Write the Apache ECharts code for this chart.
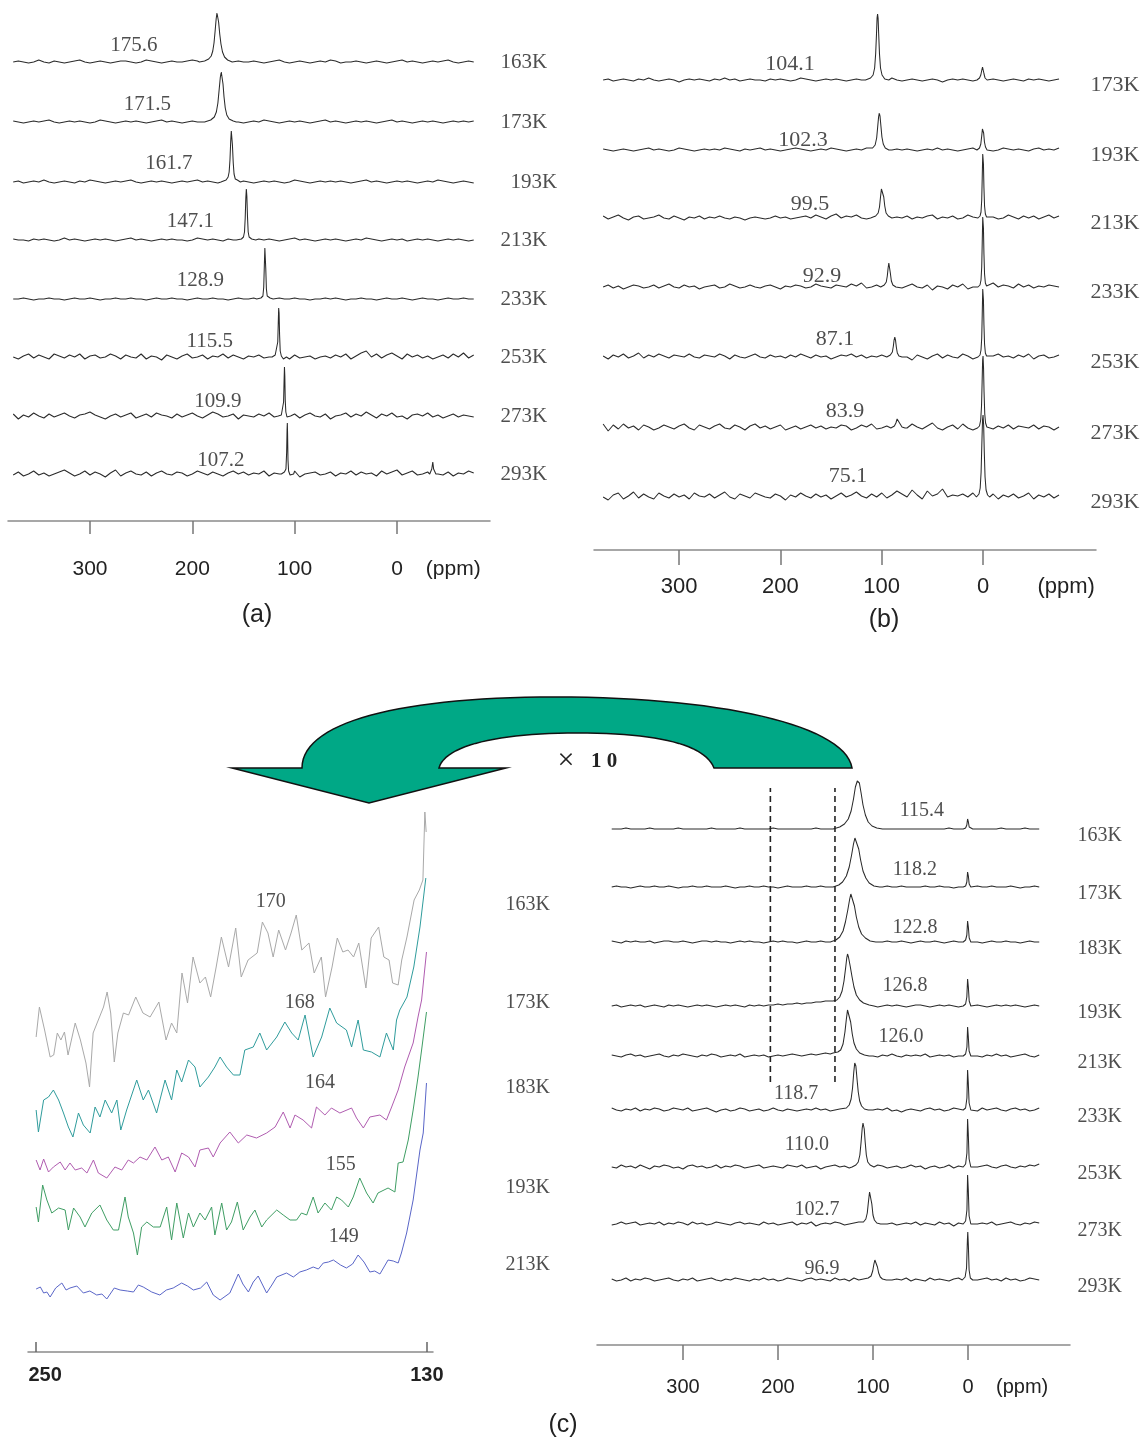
<!DOCTYPE html>
<html><head><meta charset="utf-8">
<script src="https://cdn.jsdelivr.net/npm/echarts@6/dist/echarts.min.js"></script>
<style>html,body{margin:0;padding:0;background:#fff}#c{width:1143px;height:1441px}</style>
</head><body><div id="c"></div>
<script>
// ================= DATA =================
// Panel (a)
const tempsA = ['163K','173K','193K','213K','233K','253K','273K','293K'];
const shiftsA = ['175.6','171.5','161.7','147.1','128.9','115.5','109.9','107.2'];
// baseline noise sampled every 5 ppm from 375 to -75 ppm (px units)
const noiseA163 = [0,1,0,-1,0,2,0,-1,1,0, -1,0,1,2,0,-1,0,1,0,-1, 0,1,1,0,-1,0,2,1,0,-1, 0,1,0,0,1,2,1,0,-1,0, 1,0,-1,0,1,0,0,1,0,-1, 0,1,2,0,-1,0,1,0,-1,0, 1,0,2,1,-1,0,0,1,0,-1, 0,1,0,-1,0,1,2,0,1,0, -1,0,1,0,1,2,0,-1,0,1, 0];
const noiseA173 = [1,0,-1,0,1,0,1,2,0,-1, 0,1,0,1,0,-1,0,2,1,0, -1,0,1,0,1,0,-1,0,1,2, 0,1,0,-1,0,1,0,0,1,0, -1,1,0,1,0,-1,0,1,0,2, 1,0,-1,0,1,0,1,0,-1,0, 1,2,0,1,0,-1,0,1,0,1, 0,-1,0,1,2,0,1,0,-1,0, 1,0,1,0,-1,0,1,0,1,0, 1];
const noiseA193 = [0,1,-1,0,1,0,2,0,-1,0, 1,0,-1,1,0,2,1,0,-1,0, 1,0,1,2,0,-1,0,1,0,1, 0,-1,0,1,0,1,2,0,1,0, -1,0,1,0,0,1,0,-1,0,1, 0,1,0,-1,0,2,1,0,-1,0, 1,0,1,0,1,0,-1,0,1,2, 0,1,0,-1,0,1,0,1,0,-1, 0,1,0,2,1,0,-1,0,1,0, -1];
const noiseA213 = [1,0,0,-1,1,0,1,0,-1,0, 2,0,1,0,-1,0,1,0,1,0, -1,0,1,2,0,1,0,-1,0,1, 0,1,0,0,-1,0,2,1,0,1, 0,-1,1,0,1,0,-1,0,1,0, 1,0,-1,0,1,2,0,1,0,-1, 0,1,0,1,0,-1,0,1,0,2, 1,0,-1,0,1,0,1,-1,0,1, 0,1,0,-1,0,1,0,1,0,-1, 0];
const noiseA233 = [0,0,1,0,-1,0,0,1,0,0, -1,0,1,0,0,1,0,-1,0,0, 1,0,0,1,0,0,-1,0,1,0, 0,1,0,0,-1,0,1,0,0,1, 0,0,-1,0,1,0,0,1,0,0, -1,0,1,0,0,1,0,0,-1,0, 0,1,0,1,0,-1,0,0,1,0, 0,-1,0,1,0,0,1,0,-1,0, 1,0,0,-1,0,1,0,0,1,0, 0];
const noiseA253 = [0,-2,1,3,-1,2,0,-2,3,1, -1,2,0,3,-2,1,2,-1,0,3, 1,-2,2,0,-1,3,-2,1,0,-3, 2,0,-2,1,3,-1,0,2,-2,1, 0,3,-1,2,0,-2,1,0,2,-1, 0,-2,1,0,-2,2,-1,0,1,-2, 0,1,-1,2,0,3,-2,1,4,6, 0,3,-1,2,4,1,-2,3,0,2, -1,1,-2,0,2,-1,3,0,4,-1, 2];
const noiseA273 = [2,-3,1,-1,3,0,-2,2,-1,1, 3,0,-2,1,2,4,1,-1,-3,0, 2,-1,1,3,-2,0,2,-1,3,1, 0,-2,2,-1,1,3,0,-2,1,4, 2,-1,0,2,-3,1,0,-1,2,0, 3,-1,1,-2,0,2,-2,1,3,0, -1,2,-3,0,1,3,-1,2,0,4, 1,-2,2,0,3,-1,0,-3,1,2, 0,3,-1,1,-2,0,2,-1,1,0, -1];
const noiseA293 = [-1,2,-2,0,3,-1,1,-2,0,2, 4,1,-2,0,3,-1,2,0,-3,1, 4,-2,1,3,0,-1,2,-2,1,3, 0,-1,2,1,-2,0,3,1,-1,2, 0,-2,1,3,0,2,-1,1,0,3, -2,1,0,2,-1,3,-3,0,1,2, -1,0,2,-2,1,0,3,-1,2,0, 1,-2,3,0,2,4,-1,1,3,-1, 0,2,0,0,-1,2,-2,1,0,3, 1];
// peaks [ppm, height]
const peaksA163 = [[[193,0],[188,1],[184,3],[181.5,6],[180,11],[178.8,19],[177.7,31],[176.7,43],[175.9,49],[175.2,48],[174.3,40],[173.2,28],[172,18],[170.5,10],[168.5,5],[165.5,2],[161,0]]];
const peaksA173 = [[[188,0],[182,2],[178.5,5],[176.5,10],[175,19],[173.8,32],[172.6,45],[171.7,50],[171,48],[170,38],[169,25],[167.8,14],[166.3,7],[164,3],[160,1],[157,0]]];
const peaksA193 = [[[172,0],[167,2],[165,5],[164,10],[163.2,22],[162.5,40],[161.9,51],[161.4,50],[160.8,37],[160,19],[159.2,8],[158,3],[156,2],[154.5,3],[153,0]]];
const peaksA213 = [[[157,0],[152,1],[150,3],[149,8],[148.3,22],[147.7,42],[147.2,51],[146.7,44],[146.1,24],[145.4,8],[144.5,3],[142,1],[138,0]]];
const peaksA233 = [[[137,0],[133,1],[131,3],[130.2,12],[129.6,34],[129.1,51],[128.7,49],[128.2,30],[127.6,10],[126.8,3],[124,1],[121,0]]];
const peaksA253 = [[[122,0],[119,2],[117.5,4],[116.5,15],[116,34],[115.6,49],[115.2,44],[114.7,22],[114.1,6],[113,1],[111,-2],[108,0]]];
const peaksA273 = [[[116,0],[113,1],[111.5,3],[110.8,14],[110.3,36],[109.95,49],[109.6,40],[109.2,16],[108.6,4],[107.5,-1],[104,0]]];
const peaksA293 = [[[113,0],[110,2],[108.5,5],[107.8,22],[107.4,44],[107.15,51],[106.9,40],[106.5,14],[105.9,3],[104.5,-1],[101,0]], [[-32,0],[-34,5],[-35,12],[-35.8,5],[-38,0]]];

// Panel (b)
const tempsB = ['173K','193K','213K','233K','253K','273K','293K'];
const shiftsB = ['104.1','102.3','99.5','92.9','87.1','83.9','75.1'];
const noiseB173 = [0,1,-1,0,1,0,-1,1,0,2, 0,-1,0,1,0,-2,0,1,0,1, 0,-1,1,0,2,0,1,-1,0,1, 0,0,-1,1,0,1,0,-1,0,2, 1,0,-1,0,1,0,1,0,-1,0, 1,0,1,-1,0,0,1,2,0,-1, 0,1,0,-1,0,1,0,-2,0,1, 0,1,0,-1,0,1,0,1,0,-1, 0,1,0,-1,1,0,1,0,-1,0, 1];
const noiseB193 = [1,0,-1,0,1,0,-1,0,1,2, 0,1,0,-1,0,2,1,0,-1,0, 1,0,1,0,2,1,0,-1,1,0, 1,2,0,1,0,-1,0,1,2,1, 0,-1,0,1,0,2,1,0,-1,0, 1,0,2,0,1,0,-1,0,1,0, 1,0,-1,0,1,0,2,0,1,0, -1,0,1,2,0,1,0,-1,0,2, 1,0,1,0,-1,1,2,0,1,0, 2];
const noiseB213 = [2,-1,1,3,0,-2,1,2,-1,0, 1,3,0,-1,2,0,-2,1,0,2, -1,1,0,2,0,-1,1,0,-2,0, 1,0,-1,0,2,0,1,-1,0,1, 2,0,3,1,-1,2,4,0,2,1, 3,0,-1,2,0,1,-2,0,1,0, 2,-1,1,0,2,3,-1,1,0,2, -1,0,3,1,-2,2,0,1,-1,0, 3,1,-1,2,0,2,-1,1,3,0, 2];
const noiseB233 = [0,2,-1,1,-2,0,2,1,-1,0, 2,-1,1,3,0,-1,2,0,1,-2, 0,1,2,-1,0,3,1,-1,0,2, 0,-1,1,2,0,-2,1,0,2,1, -1,0,3,1,0,-1,2,1,0,3, 1,4,-1,0,2,1,3,0,2,-1, 1,3,0,-1,2,-3,1,0,-2,2, 0,3,-2,0,1,-1,2,4,0,2, 1,-1,3,0,2,-1,1,0,2,1, 0];
const noiseB253 = [1,-2,2,0,3,-1,1,4,-1,2, 0,3,1,-1,2,1,0,3,0,-1, 2,1,0,3,1,-2,2,0,-1,1, 3,0,-1,2,0,1,-1,2,0,3, 1,-1,2,0,1,-2,0,2,1,3, 0,2,-1,1,0,2,-1,3,1,4, 0,-3,2,0,-2,1,3,-1,2,0, -1,3,1,-2,2,4,-1,1,3,0, 1,-1,2,0,3,-2,1,2,-1,0, 2];
const noiseB273 = [4,-3,3,-1,4,0,2,-2,3,1, -2,0,3,1,-1,2,4,0,-2,3, 1,-1,2,4,0,-1,3,1,-2,2, 4,0,2,-1,1,3,-2,0,2,-1, 1,3,0,2,-1,1,0,3,2,-2, 0,3,1,4,-1,0,2,1,-2,3, 0,4,1,-1,2,5,0,-2,1,3, -1,4,0,-2,3,1,4,-1,2,0, 3,-1,2,1,0,3,-1,2,1,-2, 1];
const noiseB293 = [0,-3,2,4,-2,1,5,-1,3,0, -2,4,1,-1,3,0,2,-2,4,1, 0,3,-1,2,5,0,-2,3,1,-1, 4,2,0,-1,3,1,-3,2,0,4, 1,-1,3,0,2,-2,1,4,0,2, 5,1,-1,3,0,4,-1,2,6,3, 0,7,2,-2,6,1,3,8,0,2, 1,3,0,4,2,-1,1,3,-2,2, 0,3,-1,1,4,-2,2,0,3,-1, 2];
const peaksB173 = [[[116,0],[111,2],[108.5,5],[107,12],[106,26],[105.2,45],[104.6,62],[104.1,66],[103.6,62],[103,46],[102.2,26],[101.2,12],[99.7,5],[97,1],[93,0]], [[6,0],[3.5,2],[2.2,5],[1.2,10],[0.5,13],[-0.2,11],[-1,6],[-2,2],[-4,0]]];
const peaksB193 = [[[114,0],[109,2],[106.5,5],[105,12],[104,23],[103.1,33],[102.4,37],[101.7,34],[100.8,24],[99.8,13],[98.5,6],[96.5,2],[93,0]], [[6,0],[3.5,2],[2.2,6],[1.3,14],[0.6,21],[0,22],[-0.6,17],[-1.4,8],[-2.4,3],[-4,0]]];
const peaksB213 = [[[111,0],[106,2],[103.5,5],[102.2,11],[101.2,21],[100.3,29],[99.6,31],[98.9,29],[98,21],[97,12],[95.7,5],[93.5,2],[90,0]], [[5,0],[3,2],[2,6],[1.3,18],[0.8,40],[0.3,64],[0,66],[-0.4,54],[-0.9,30],[-1.5,12],[-2.3,4],[-3.5,1],[-5,0]]];
const peaksB233 = [[[101,0],[97.5,2],[95.5,5],[94.5,11],[93.7,19],[93,24],[92.3,22],[91.5,14],[90.5,6],[89,2],[86,0]], [[5,0],[3,2],[2,7],[1.3,20],[0.8,44],[0.3,70],[0,72],[-0.4,59],[-0.9,33],[-1.5,13],[-2.3,4],[-3.5,1],[-5,0]]];
const peaksB253 = [[[95,0],[91.5,2],[89.5,5],[88.5,11],[87.8,17],[87.1,20],[86.4,17],[85.6,10],[84.6,4],[83,1],[80,0]], [[5,0],[3,2],[2,7],[1.3,19],[0.8,42],[0.3,68],[0,70],[-0.4,57],[-0.9,32],[-1.5,13],[-2.3,4],[-3.5,1],[-5,0]]];
const peaksB273 = [[[91,0],[87.5,2],[86,5],[84.8,9],[83.9,10],[83,8],[81.8,4],[80,1],[77,0]], [[5.5,0],[3.5,2],[2.3,8],[1.5,22],[0.9,46],[0.4,68],[0,72],[-0.5,60],[-1,36],[-1.7,14],[-2.5,5],[-3.8,1],[-5.5,0]]];
const peaksB293 = [[[6.5,0],[4,3],[2.8,9],[1.9,25],[1.2,52],[0.5,77],[0,82],[-0.6,72],[-1.2,46],[-2,20],[-3,7],[-4.5,2],[-6.5,0]]];

// Panel (c), right
const tempsC = ['163K','173K','183K','193K','213K','233K','253K','273K','293K'];
const shiftsC = ['115.4','118.2','122.8','126.8','126.0','118.7','110.0','102.7','96.9'];
const noiseC163 = [0,0,0,1,0,0,0,0,1,0, 0,0,0,0,1,0,0,0,0,0, 0,1,0,0,0,0,0,1,0,0, 0,0,0,0,1,0,0,0,0,0, 0,0,0,1,0,0,0,0,0,0, 0,0,1,0,0,0,0,0,0,0, 0,0,0,0,0,0,0,0,0,0, 0,1,0,0,0,0,0,0,0,0, 0,0,1,0,0,0,0,1,0,0, 0];
const noiseC173 = [0,1,0,0,-1,0,1,0,0,1, 0,0,1,0,-1,0,0,1,0,0, 1,0,0,0,1,0,-1,0,0,1, 0,0,1,0,0,-1,0,1,0,0, 0,1,0,0,1,0,0,0,1,0, 0,0,1,0,0,-1,0,0,1,0, 0,1,0,0,0,0,1,0,0,1, 0,0,-1,0,1,0,0,1,0,0, 1,0,0,0,1,0,-1,0,0,1, 0];
const noiseC183 = [1,0,-1,1,0,1,0,0,1,-1, 0,1,1,0,0,1,0,-1,0,1, 1,0,1,0,0,-1,0,1,0,1, 0,0,-1,0,1,0,1,0,0,-1, 0,1,0,0,1,0,-1,0,0,1, 0,1,0,0,1,0,-1,0,1,0, 0,1,0,-1,0,1,0,0,1,0, -1,0,1,0,0,1,0,0,-1,0, 1,0,0,1,0,0,-1,0,1,0, 0];
const noiseC193 = [0,1,-1,0,1,0,1,-1,0,1, 0,-1,1,0,1,0,-1,0,1,0, 1,0,-1,0,1,0,1,0,-1,1, 0,1,0, 1,1,2,1,2,2,3,2,3,3,4,4,5,5, 0,0,0,0,0,0,0,0, 0,-1,0,1,0,1,0,-1,0,1, 1,0,-1,0,1,0,1,0,-1,0, 1,0,1,0,-1,0,1,0,1,0, 1,0,-1,0,1,0,1,0];
const noiseC213 = [1,0,-1,1,2,0,1,-1,0,1, 2,0,-1,1,0,2,1,0,-1,1, 0,2,1,-1,0,1,0,2,-1,0, 1,0,1,-1,0,1,0,1,2,1, 0,1,2,1,2,3,2,3,0,1, 0,-1,1,0,1,0,-1,1,0,2, 0,-1,1,0,1,0,2,-1,0,1, 0,1,-1,0,2,0,1,0,-1,1, 0,2,0,1,-1,0,1,2,0,-1, 1];
const noiseC233 = [2,0,-1,1,0,2,-1,1,0,2, 1,-1,0,2,1,0,2,-1,0,1, 2,0,-2,0,1,-1,0,2,1,-1, 0,1,-1,0,2,0,-1,1,0,-1, 0,1,0,2,0,1,-1,0,1,2, 0,-1,0,1,-1,0,1,0,2,-1, 0,-2,0,1,0,-1,1,2,0,1, -1,0,2,1,-1,0,1,-1,2,0, 1,2,0,-1,1,2,0,1,-1,0, 2];
const noiseC253 = [0,-1,2,0,1,-1,2,0,-2,1, 0,2,1,-1,0,-2,1,2,0,1, -1,0,2,-1,1,0,2,1,-1,0, 1,2,-1,0,1,0,-1,2,1,0, 2,-1,0,1,-2,0,1,2,0,1, -1,2,0,1,-1,0,2,1,-1,0, 1,-1,0,2,0,1,-2,0,1,-1, 0,2,-1,1,0,-1,2,0,1,2, 0,-1,1,2,0,-1,1,0,2,1, 3];
const noiseC273 = [-1,0,2,0,1,2,-1,0,1,0, 2,-1,1,0,2,1,-1,2,0,1, -1,0,2,1,0,-1,1,2,0,1, 0,-1,2,0,1,-1,0,1,2,-1, 1,0,2,-2,0,1,0,2,1,-1, 0,1,2,-1,1,0,-1,2,0,1, -1,0,1,0,2,-1,1,0,-1,2, 0,1,-2,1,0,2,-1,0,1,0, 2,-1,0,1,2,0,-1,1,0,2, 1];
const noiseC293 = [1,-1,0,2,-1,1,0,2,1,-1, 0,1,2,0,-1,1,0,2,-1,0, 1,2,0,-1,1,0,2,1,0,-1, 1,0,2,0,1,-1,0,2,1,0, -1,1,2,0,1,0,-1,2,0,1, -1,2,0,1,-2,1,0,2,-1,0, 1,0,2,-1,1,0,-1,2,0,1, 0,-1,1,2,0,1,-2,0,1,2, 0,1,-1,2,0,1,-1,0,2,1, 0];
const peaksC163 = [[[142,0],[135,2],[130,5],[126,10],[123,18],[120.5,30],[118.5,42],[116.5,48],[115.4,49],[114.3,46],[112.5,36],[110.5,24],[108,14],[105,7],[101,3],[96,1],[90,0]], [[5,0],[2.5,1],[1.2,4],[0.4,10],[-0.4,7],[-1.3,2],[-3,0]]];
const peaksC173 = [[[142,0],[136,2],[132,5],[128,11],[125,20],[122.5,32],[120.5,43],[119,49],[118.2,50],[117,47],[115,38],[113,27],[110.5,16],[107.5,9],[104,4],[99,1],[93,0]], [[5,0],[2.5,1],[1.2,5],[0.4,15],[-0.4,11],[-1.3,3],[-3,0]]];
const peaksC183 = [[[145,0],[139,2],[135,5],[131.5,11],[129,20],[126.5,32],[124.5,43],[123.3,48],[122.8,49],[121.5,46],[119.5,36],[117.5,25],[115,15],[112,8],[108,4],[103,1],[97,0]], [[5,0],[2.5,2],[1.2,7],[0.4,21],[-0.4,15],[-1.3,4],[-3,0]]];
const peaksC193 = [[[142,5],[138,6],[135,9],[132.5,15],[130.5,25],[128.8,38],[127.6,48],[126.8,52],[125.8,49],[124,40],[122,29],[120,19],[117.5,11],[114,6],[110,3],[104,1],[99,0]], [[5,0],[2.5,2],[1.2,9],[0.4,27],[-0.4,19],[-1.3,5],[-3,0]]];
const peaksC213 = [[[142,3],[137,4],[134,6],[131.5,12],[129.5,24],[128,37],[126.8,46],[126,48],[125,44],[123.5,34],[121.8,22],[120,13],[117.5,7],[114,3],[109,1],[104,0]], [[5,0],[2.5,2],[1.1,9],[0.4,29],[-0.3,20],[-1.2,5],[-3,0]]];
const peaksC233 = [[[134,0],[128,2],[125,5],[123,11],[121.5,22],[120.2,38],[119.2,47],[118.7,48],[118,44],[116.8,31],[115.5,18],[114,9],[112,4],[109,1],[105,0]], [[5,0],[2.5,2],[1.1,12],[0.4,40],[-0.3,28],[-1.2,7],[-3,0]]];
const peaksC253 = [[[122,0],[118,2],[115.5,5],[113.8,12],[112.5,25],[111.3,39],[110.5,44],[110,44],[109.2,38],[108.2,25],[107,12],[105.5,5],[103,2],[99,0]], [[5,0],[2.5,3],[1.1,14],[0.4,48],[-0.3,34],[-1.2,8],[-3,0]]];
const peaksC273 = [[[114,0],[110,2],[107.5,5],[106,11],[104.8,22],[103.6,32],[102.9,34],[102.2,31],[101.2,20],[100,9],[98.5,4],[96,1],[92,0]], [[5,0],[2.5,3],[1.1,14],[0.4,49],[-0.3,35],[-1.2,8],[-3,0]]];
const peaksC293 = [[[109,0],[105,2],[102,4],[100.3,9],[99,16],[98,20],[97.3,21],[96.5,19],[95.3,13],[94,7],[92.3,3],[90,1],[86,0]], [[6,0],[3,3],[1.5,12],[0.6,40],[0.2,48],[-0.4,35],[-1.2,10],[-2.5,2],[-5,0]]];
const dashedLinePpm = [208, 140];
const dashedLineRange = [263, 557];

// Panel (c), left (x10 expansion, 250-130 ppm); heights above the axis
const tempsL = ['163K','173K','183K','193K','213K'];
const shiftsL = ['170','168','164','155','149'];
const colorsL = ['#a9a9a9','#2f9c9c','#b05cb0','#3f9e64','#5a66c8'];
const gray163 = [[250,315],[249,345],[247.4,322],[245.7,295],[244.6,297],[243.5,319],[242.4,312],[241.3,320],[240.2,297],[238,329],[236.4,312],[234.7,289],[233.6,265],[232.5,319],[230.9,332],[229.3,345],[228.2,360],[227.1,339],[226,290],[224.9,319],[223.2,339],[221.6,337],[219.4,355],[217.2,339],[215,335],[212.3,350],[210.1,312],[208.4,329],[206.8,319],[205.2,379],[203.5,349],[201.8,395],[199.7,369],[198,375],[196.4,355],[194.7,385],[193.1,415],[190.9,385],[188.7,424],[187,375],[184.9,392],[182.1,399],[180.5,430],[178.8,419],[177.2,395],[175.5,422],[173.4,402],[171.7,419],[170.1,437],[168.4,402],[166.2,409],[164.6,379],[162.4,395],[161.1,355],[159.1,385],[157.5,414],[155.8,400],[154.2,402],[152.5,395],[150.9,409],[148.7,364],[147.1,414],[144.8,425],[143.2,395],[141.6,392],[140.5,369],[138.8,367],[137.7,392],[136.1,415],[133.9,452],[132.3,462],[131.2,472],[130.6,540],[130.2,520]];
const teal173 = [[250,242],[249.3,220],[247.7,252],[246.2,255],[244.7,262],[243.1,252],[241.6,239],[240.1,225],[238.7,215],[237,239],[235.5,227],[233.4,219],[231.9,245],[230.4,235],[228.8,252],[226.8,239],[225.2,252],[224,222],[222.2,242],[219.1,272],[217.1,252],[215.5,262],[213,239],[210.4,272],[208.4,252],[206.8,282],[205.3,270],[203.2,292],[201.2,285],[199.7,265],[197.1,275],[195.1,285],[193.5,295],[191.5,285],[189.4,277],[187.4,277],[185.9,302],[183.3,305],[181.3,319],[179.2,302],[176.1,315],[173.6,330],[171.5,319],[169.5,312],[167.4,337],[164.9,295],[162.3,315],[159.8,344],[157.7,329],[154.7,322],[153.1,305],[151.1,332],[149.5,302],[147,300],[144.4,295],[142.4,319],[140.3,302],[139.3,332],[138.3,342],[136.1,355],[134,385],[132.1,425],[130.3,474]];
const magenta183 = [[250,192],[248.8,182],[247.7,193],[246.2,180],[244.7,185],[242.6,190],[241.1,182],[239.6,189],[238,182],[236,184],[234.4,179],[232.4,192],[230.9,179],[228.3,174],[225.8,185],[223.7,182],[221.7,192],[220.1,189],[218.1,195],[216,192],[213.5,205],[211.4,192],[209.4,195],[207.3,180],[205.3,199],[203.2,195],[201.2,185],[199.7,202],[197.1,204],[195.6,195],[193.5,209],[190.5,220],[187.9,209],[185.3,217],[182.3,214],[179.2,219],[176.6,225],[174.1,240],[172,224],[170.5,237],[168,232],[165.4,224],[163.9,245],[161.3,237],[159.3,244],[156.7,239],[153.1,244],[151.6,234],[149.5,224],[147.5,235],[144.4,237],[142.4,232],[140.8,245],[138.8,262],[136.8,285],[134.2,309],[132.7,335],[131.6,352],[130.1,400]];
const green193 = [[250,145],[249.3,130],[248,167],[246.7,152],[245.2,139],[243.1,144],[241.1,142],[240.1,122],[238.5,144],[236.5,135],[235,125],[232.9,139],[230.4,147],[228.3,132],[226.3,122],[224.7,122],[222.7,155],[221.7,135],[220.1,119],[218.9,97],[217.6,125],[216,130],[214,125],[211.9,125],[209.9,145],[208.4,112],[206.8,149],[204.8,114],[203.2,139],[201.7,125],[199.7,139],[198.1,132],[196.1,145],[195.1,117],[193,149],[191.5,122],[190,130],[188.2,150],[186.4,122],[184.3,135],[182.8,142],[180.7,125],[179.2,132],[176.1,142],[174.1,137],[172,132],[170,132],[168.5,139],[166.9,137],[164.9,155],[163.4,139],[161.3,149],[159.3,142],[157.7,155],[156.2,152],[154.1,145],[152.6,155],[150.6,174],[148.5,159],[146.5,149],[145,159],[141.9,164],[139.8,160],[138.8,189],[137.3,190],[135.7,212],[134.2,242],[132.7,275],[131.6,302],[130.1,340]];
const blue213 = [[250,63],[248.7,65],[247.7,59],[246.7,60],[245.7,55],[244,64],[242.1,69],[240.8,62],[239.6,64],[237.5,66],[235.5,59],[233.5,61],[231.4,57],[229.8,58],[228.3,53],[226,64],[224.2,62],[222,61],[220.1,60],[218.6,67],[217.1,65],[214.5,60],[212,57],[210,62],[207.9,64],[205.3,69],[203.5,66],[201.7,62],[199.5,64],[197.6,70],[195.6,57],[193.5,52],[190.5,59],[187.9,78],[186.5,68],[184.8,60],[183.3,70],[181.8,76],[179.2,59],[177.6,67],[176.1,75],[173.1,79],[171,75],[169,80],[167,82],[164.9,85],[163.3,83],[161.8,89],[160.2,90],[158.7,92],[156.5,87],[154.7,84],[152.8,88],[151.1,97],[149.3,90],[147.5,80],[146,81],[144.4,78],[141.9,92],[140.3,91],[138.8,89],[137.8,99],[136.2,119],[134.2,152],[132.1,202],[131.1,219],[130.1,269]];

// Axis tick values
const ticksMain = [300, 200, 100, 0];
const ticksLeft = [250, 130];

// ================= LAYOUT =================
const SERIF = "'Liberation Serif','DejaVu Serif',serif";
const SANS = "'Liberation Sans','DejaVu Sans',Arial,sans-serif";
const LA = {grid:{left:8, top:0, width:482, height:521}, ppmMin:-90.9, ppmMax:380.1, axisY:521,
  baselines:[62,122,182,240,299,357,416,474], tempPpm:[-100.6,-100.6,-110.4,-100.6,-100.6,-100.6,-100.6,-100.6], tempDy:0,
  valuePos:[[257,17],[244,18],[223,19],[202,19],[192,19],[183,16],[175,15],[172,14]], tempFont:21, valFont:21,
  tickLen:13, labelMargin:38, labelFont:21, ppmPos:-55};
const LB = {grid:{left:594, top:0, width:502, height:550}, ppmMin:-111.5, ppmMax:384.0, axisY:550,
  baselines:[80,150,218,287,357,428,497], tempPpm:[-105.6,-105.6,-105.6,-105.6,-105.6,-105.6,-105.6], tempDy:5,
  valuePos:[[190.5,16],[177.7,10],[170.8,14],[158.9,11],[146.1,18],[136.2,17],[133.3,21]], tempFont:22, valFont:22,
  tickLen:15, labelMargin:26, labelFont:22, ppmPos:-82};
const LC = {grid:{left:597, top:770, width:473, height:575}, ppmMin:-107.4, ppmMax:390.5, axisY:1345,
  baselines:[829,887,942,1006,1056,1110,1167,1224,1280], tempPpm:[-114.7,-114.7,-114.7,-114.7,-114.7,-114.7,-114.7,-114.7,-114.7], tempDy:7,
  valuePos:[[48.4,18],[55.8,17],[55.8,14],[66.3,20],[70.5,19],[181,16],[169.5,22],[159,14],[153.7,11]], tempFont:20, valFont:20,
  tickLen:15, labelMargin:32, labelFont:20, ppmPos:-57};
const LL = {grid:{left:28, top:800, width:405, height:552}, ppmMin:128.1, ppmMax:252.5,
  tempPos:[[106,447],[106,349],[106,264],[106,164],[106,87]],
  valuePos:[[177.9,450],[169,349],[162.8,269],[156.4,187],[155.5,115]]};

// ================= BUILD =================
const ppmGrid = [];
for (let p = 375; p >= -75; p -= 5) ppmGrid.push(p);

function buildTrace(noise, peakList, offset) {
  const spans = peakList.map(pk => {
    const xs = pk.map(q => q[0]);
    return [Math.min.apply(null, xs), Math.max.apply(null, xs)];
  });
  const pts = [];
  ppmGrid.forEach((p, i) => {
    if (noise[i] === undefined) return;
    if (spans.some(s => p >= s[0] && p <= s[1])) return;
    pts.push([p, noise[i]]);
  });
  peakList.forEach(pk => pk.forEach(q => pts.push([q[0], q[1]])));
  pts.sort((a, b) => b[0] - a[0]);
  return pts.map(q => [q[0], q[1] + offset]);
}

const lineCommon = {type:'line', symbol:'none', showSymbol:false, clip:false, silent:true, animation:false,
  lineStyle:{width:1.05, color:'#2a2a2a'}};
const labelSeriesCommon = {type:'scatter', symbol:'circle', symbolSize:1, clip:false, silent:true, animation:false,
  itemStyle:{color:'rgba(0,0,0,0)'}};

const series = [];
function addPanel(gi, L, noises, peaks, temps, values) {
  const offs = L.baselines.map(b => L.axisY - b);
  noises.forEach((nz, i) => {
    series.push(Object.assign({}, lineCommon, {xAxisIndex:gi, yAxisIndex:gi, data: buildTrace(nz, peaks[i], offs[i])}));
  });
  series.push(Object.assign({}, labelSeriesCommon, {xAxisIndex:gi, yAxisIndex:gi,
    data: temps.map((t, i) => ({name:t, value:[L.tempPpm[i], offs[i] - L.tempDy]})),
    label:{show:true, position:'right', distance:0, formatter:'{b}', fontFamily:SERIF, fontSize:L.tempFont, color:'#222'}}));
  series.push(Object.assign({}, labelSeriesCommon, {xAxisIndex:gi, yAxisIndex:gi,
    data: values.map((v, i) => ({name:v, value:[L.valuePos[i][0], offs[i] + L.valuePos[i][1]]})),
    label:{show:true, position:'inside', formatter:'{b}', fontFamily:SERIF, fontSize:L.valFont, color:'#222'}}));
}

addPanel(0, LA, [noiseA163,noiseA173,noiseA193,noiseA213,noiseA233,noiseA253,noiseA273,noiseA293],
  [peaksA163,peaksA173,peaksA193,peaksA213,peaksA233,peaksA253,peaksA273,peaksA293], tempsA, shiftsA);
addPanel(1, LB, [noiseB173,noiseB193,noiseB213,noiseB233,noiseB253,noiseB273,noiseB293],
  [peaksB173,peaksB193,peaksB213,peaksB233,peaksB253,peaksB273,peaksB293], tempsB, shiftsB);
addPanel(2, LC, [noiseC163,noiseC173,noiseC183,noiseC193,noiseC213,noiseC233,noiseC253,noiseC273,noiseC293],
  [peaksC163,peaksC173,peaksC183,peaksC193,peaksC213,peaksC233,peaksC253,peaksC273,peaksC293], tempsC, shiftsC);

dashedLinePpm.forEach(p => {
  series.push(Object.assign({}, lineCommon, {xAxisIndex:2, yAxisIndex:2,
    data:[[p, dashedLineRange[0]], [p, dashedLineRange[1]]],
    lineStyle:{width:1.6, color:'#222', type:[6,4]}}));
});

[gray163, teal173, magenta183, green193, blue213].forEach((d, i) => {
  series.push(Object.assign({}, lineCommon, {xAxisIndex:3, yAxisIndex:3, data:d,
    lineStyle:{width:1, color:colorsL[i]}}));
});
series.push(Object.assign({}, labelSeriesCommon, {xAxisIndex:3, yAxisIndex:3,
  data: tempsL.map((t, i) => ({name:t, value:LL.tempPos[i]})),
  label:{show:true, position:'right', distance:0, formatter:'{b}', fontFamily:SERIF, fontSize:20, color:'#222'}}));
series.push(Object.assign({}, labelSeriesCommon, {xAxisIndex:3, yAxisIndex:3,
  data: shiftsL.map((v, i) => ({name:v, value:LL.valuePos[i]})),
  label:{show:true, position:'inside', formatter:'{b}', fontFamily:SERIF, fontSize:20, color:'#222'}}));

function mainXAxis(gi, L) {
  return {gridIndex:gi, type:'value', min:L.ppmMin, max:L.ppmMax, inverse:true, position:'bottom',
    axisLine:{show:true, onZero:false, lineStyle:{color:'#8a8a8a', width:1.5}},
    axisTick:{show:true, inside:false, length:L.tickLen, customValues:ticksMain, lineStyle:{color:'#777', width:1.5}},
    axisLabel:{show:true, customValues:ticksMain.concat([L.ppmPos]), margin:L.labelMargin,
      formatter: v => (v === L.ppmPos ? '(ppm)' : String(v)), fontFamily:SANS, fontSize:L.labelFont, color:'#222'},
    splitLine:{show:false}};
}
const xAxes = [mainXAxis(0, LA), mainXAxis(1, LB), mainXAxis(2, LC),
  {gridIndex:3, type:'value', min:LL.ppmMin, max:LL.ppmMax, inverse:true, position:'bottom',
    axisLine:{show:true, onZero:false, lineStyle:{color:'#8a8a8a', width:1.5}},
    axisTick:{show:true, inside:true, length:10, customValues:ticksLeft, lineStyle:{color:'#666', width:1.5}},
    axisLabel:{show:true, customValues:ticksLeft, margin:13,
      formatter: v => (v === 250 ? '{s|250}' : String(v)),
      rich:{s:{padding:[0,0,0,18], fontFamily:SANS, fontSize:20, fontWeight:'bold', color:'#222'}},
      fontFamily:SANS, fontSize:20, fontWeight:'bold', color:'#222'},
    splitLine:{show:false}}];
const grids = [LA, LB, LC, LL].map(L => Object.assign({containLabel:false}, L.grid));
const yAxes = grids.map((g, i) => ({gridIndex:i, type:'value', min:0, max:g.height, show:false}));

function txt(x, y, text, font) {
  return {type:'text', x:x, y:y, silent:true,
    style:{text:text, font:font, fill:'#222', textAlign:'center', textVerticalAlign:'middle'}};
}

// green curved arrow (decoration): cubic Bézier outline sampled into a polygon
function cubic(p0, p1, p2, p3, n) {
  const out = [];
  for (let i = 1; i <= n; i++) {
    const t = i / n, u = 1 - t;
    out.push([u*u*u*p0[0] + 3*u*u*t*p1[0] + 3*u*t*t*p2[0] + t*t*t*p3[0],
              u*u*u*p0[1] + 3*u*u*t*p1[1] + 3*u*t*t*p2[1] + t*t*t*p3[1]]);
  }
  return out;
}
const arrowPts = [[852,768]]
  .concat(cubic([852,768],[845,725],[720,697],[555,697],30))
  .concat(cubic([555,697],[400,697],[302,722],[302,768],30))
  .concat([[232,768],[369,803],[506,768],[439,768]])
  .concat(cubic([439,768],[445,745],[500,733],[577,733],24))
  .concat(cubic([577,733],[660,733],[705,745],[714,768],24));

const option = {
  animation:false,
  backgroundColor:'#ffffff',
  grid: grids,
  xAxis: xAxes,
  yAxis: yAxes,
  series: series,
  graphic: [
    {type:'polygon', silent:true, shape:{points:arrowPts}, style:{fill:'#00a886', stroke:'#111', lineWidth:1.5}},
    txt(566, 761, '\u00d7', '30px ' + SERIF),
    txt(604, 762, '1 0', 'bold 21px ' + SERIF),
    txt(257, 615, '(a)', '25px ' + SANS),
    txt(884, 620, '(b)', '25px ' + SANS),
    txt(563, 1425, '(c)', '25px ' + SANS)
  ]
};

const chart = echarts.init(document.getElementById('c'), null, {renderer:'canvas', width:1143, height:1441});
chart.setOption(option);
</script>
</body></html>
